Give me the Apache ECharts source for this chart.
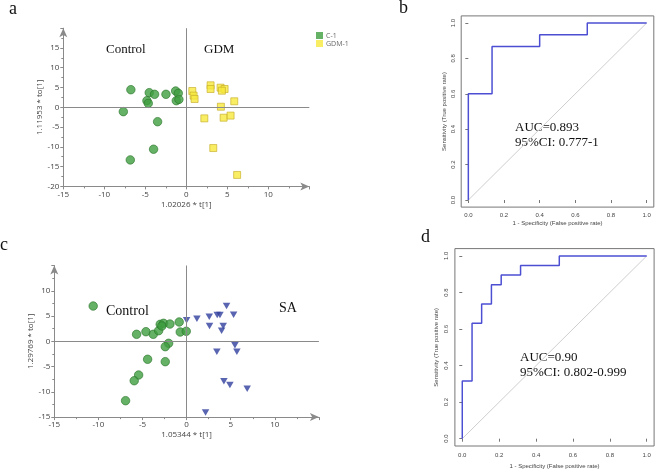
<!DOCTYPE html>
<html><head><meta charset="utf-8">
<script src="https://cdn.jsdelivr.net/npm/echarts@6/dist/echarts.min.js"></script>
<style>html,body{margin:0;padding:0;background:#fff}#c{width:655px;height:470px}</style>
</head><body><div id="c"></div>
<script>
// Panel a: OPLS-DA scores, Control (C-1) vs GDM (GDM-1)
const ctrlA = [[-6.76,4.45],[-4.52,3.7],[-3.87,3.28],[-2.48,3.28],[-1.3,4.12],[-0.98,3.54],[-4.8,1.67],[-4.64,1.0],[-1.22,1.67],[-0.9,2.0],[-7.68,-1.1],[-3.5,-3.64],[-3.99,-10.6],[-6.83,-13.3]];
const gdmA = [[0.73,4.12],[0.89,2.95],[1.01,2.1],[2.96,5.56],[2.96,4.63],[4.18,4.96],[4.67,4.63],[4.34,4.2],[5.85,1.52],[4.22,0.15],[2.2,-2.8],[4.55,-2.63],[5.4,-2.1],[3.29,-10.3],[6.2,-17.1]];
// Panel c: Control vs SA
const ctrlC = [[-10.59,6.98],[-5.67,1.38],[-4.61,1.9],[-3.78,1.38],[-3.17,2.1],[-2.99,3.36],[-2.61,3.56],[-2.8,3.03],[-1.89,3.42],[-0.84,3.82],[-0.72,1.84],[-0.04,1.98],[-2.04,-0.4],[-2.42,-1.06],[-4.42,-3.56],[-2.42,-4.03],[-5.44,-6.67],[-5.94,-7.8],[-6.92,-11.75]];
const saC = [[0,4.15],[1.17,4.48],[2.57,4.87],[3.47,5.2],[3.78,5.2],[4.53,6.98],[5.33,5.27],[2.6,3.03],[4.15,3.03],[3.97,2.1],[5.48,-0.8],[5.7,-2.05],[3.43,-2.05],[4.23,-7.9],[4.91,-8.65],[6.87,-9.37],[2.15,-14.1]];
// ROC curves (FPR, TPR)
const rocB = [[0,0],[0,0.6],[0.133,0.6],[0.133,0.867],[0.4,0.867],[0.4,0.933],[0.667,0.933],[0.667,1],[1,1]];
const rocD = [[0,0],[0,0.316],[0.053,0.316],[0.053,0.632],[0.105,0.632],[0.105,0.737],[0.158,0.737],[0.158,0.842],[0.211,0.842],[0.211,0.895],[0.316,0.895],[0.316,0.947],[0.526,0.947],[0.526,1],[1,1]];
const diag = [[0,0],[1,1]];
const rocTicks = [0,0.2,0.4,0.6,0.8,1.0];
const titleA = {x:'1.02026 * t[1]', y:'1.11953 * to[1]'};
const titleC = {x:'1.05344 * t[1]', y:'1.29769 * to[1]'};
const rocX = '1 - Specificity (False positive rate)';
const rocY = 'Sensitivity (True positive rate)';

const axisCol = '#8a8a8a';
const lblFont = 'Open Sans, DejaVu Sans, sans-serif';
function scatX(i, name, max){
  return {gridIndex:i, type:'value', min:-15, max:max, interval:5,
    axisLine:{show:true, onZero:false, symbol:['none','arrow'], symbolSize:[6,9], lineStyle:{color:axisCol,width:1}},
    axisTick:{show:true, length:3, lineStyle:{color:axisCol}},
    minorTick:{show:true, splitNumber:2, length:2, lineStyle:{color:axisCol}},
    splitLine:{show:false},
    axisLabel:{fontSize:8, color:'#444', margin:4, fontFamily:lblFont, formatter:v=> v>=max-0.01 ? '' : String(v)},
    name:name, nameLocation:'middle', nameGap:14, nameTextStyle:{fontSize:8, color:'#444', fontFamily:lblFont}};
}
function scatY(i, name, min, max){
  return {gridIndex:i, type:'value', min:min, max:max, interval:5,
    axisLine:{show:true, onZero:false, symbol:['none','arrow'], symbolSize:[6,9], lineStyle:{color:axisCol,width:1}},
    axisTick:{show:true, length:3, lineStyle:{color:axisCol}},
    minorTick:{show:true, splitNumber:2, length:2, lineStyle:{color:axisCol}},
    splitLine:{show:false},
    axisLabel:{fontSize:8, color:'#444', margin:4, fontFamily:lblFont, formatter:v=> v>=max-0.01 ? '' : String(v)},
    name:name, nameLocation:'middle', nameGap:20, nameTextStyle:{fontSize:8, color:'#444', fontFamily:lblFont}};
}
function rocAx(i, isY, name, gap, margin){
  return {gridIndex:i, type:'value', min:-0.04, max:1.04,
    axisLine:{show:false},
    axisTick:{show:true, length:3, customValues:rocTicks, lineStyle:{color:'#777'}},
    splitLine:{show:false},
    axisLabel:{fontSize:6, color:'#444', margin:margin, fontFamily:'Liberation Sans, Arial, sans-serif', customValues:rocTicks, rotate: isY?90:0, formatter:v=>v.toFixed(1)},
    name:name, nameLocation:'middle', nameGap:gap, nameTextStyle:{fontSize:6, color:'#444', fontFamily:'Liberation Sans, Arial, sans-serif'}};
}
const refLine = {silent:true, symbol:'none', label:{show:false}, lineStyle:{color:axisCol, type:'solid', width:1}, data:[{xAxis:0},{yAxis:0}]};
const green = {color:'#3f9e40', borderColor:'#2a752a', borderWidth:0.8};
const serif = 'Liberation Serif, Times New Roman, serif';
function txt(t, x, y, size, align){
  return {type:'text', x:x, y:y, style:{text:t, font:size+'px '+serif, fill:'#111', align:align||'left', verticalAlign:'middle'}};
}

const option = {
  animation:false,
  backgroundColor:'#fff',
  grid:[
    {left:63.3, top:28.2, width:246, height:158.2},
    {left:461.2, top:15.9, width:192.6, height:191.2, show:true, borderColor:'#777', borderWidth:1, backgroundColor:'transparent'},
    {left:54.3, top:265.5, width:264.6, height:151.6},
    {left:454.9, top:248.6, width:199.2, height:198.8, show:true, borderColor:'#777', borderWidth:1, backgroundColor:'transparent'}
  ],
  xAxis:[ scatX(0, titleA.x, 15), rocAx(1,false,rocX,13,5), scatX(2, titleC.x, 15), rocAx(3,false,rocX,17,6) ],
  yAxis:[ scatY(0, titleA.y, -20, 20), rocAx(1,true,rocY,14,5), scatY(2, titleC.y, -15, 15), rocAx(3,true,rocY,16,6) ],
  legend:{orient:'vertical', left:316, top:32, itemWidth:7, itemHeight:7, itemGap:1, padding:0,
    textStyle:{fontSize:7, color:'#666', fontFamily:lblFont, padding:[0,0,0,-2]},
    data:[{name:'C-1', icon:'rect', itemStyle:{borderWidth:0}},{name:'GDM-1', icon:'rect', itemStyle:{borderWidth:0}}]},
  series:[
    {name:'C-1', type:'scatter', xAxisIndex:0, yAxisIndex:0, symbol:'circle', symbolSize:8.5, itemStyle:green, data:ctrlA, markLine:refLine, z:3},
    {name:'GDM-1', type:'scatter', xAxisIndex:0, yAxisIndex:0, symbol:'rect', symbolSize:7, itemStyle:{color:'#f6e93c', borderColor:'#c4ab25', borderWidth:0.8}, data:gdmA, z:3},
    {name:'diagB', type:'line', xAxisIndex:1, yAxisIndex:1, showSymbol:false, data:diag, lineStyle:{color:'#cfcfcf', width:1}},
    {name:'rocB', type:'line', xAxisIndex:1, yAxisIndex:1, showSymbol:false, data:rocB, lineStyle:{color:'#4d4fd3', width:1.5}},
    {name:'Control', type:'scatter', xAxisIndex:2, yAxisIndex:2, symbol:'circle', symbolSize:8.5, itemStyle:green, data:ctrlC, markLine:refLine, z:3},
    {name:'SA', type:'scatter', xAxisIndex:2, yAxisIndex:2, symbol:'triangle', symbolRotate:180, symbolSize:[7.5,6.5], itemStyle:{color:'#2f3e9c'}, data:saC, z:3},
    {name:'diagD', type:'line', xAxisIndex:3, yAxisIndex:3, showSymbol:false, data:diag, lineStyle:{color:'#cfcfcf', width:1}},
    {name:'rocD', type:'line', xAxisIndex:3, yAxisIndex:3, showSymbol:false, data:rocD, lineStyle:{color:'#4d4fd3', width:1.5}}
  ],
  graphic:[
    txt('a', 9, 9, 18), txt('b', 399, 8, 18), txt('c', 0, 245, 18), txt('d', 421, 237, 18),
    txt('Control', 106, 49.5, 13), txt('GDM', 204, 49.5, 13),
    txt('Control', 106, 311, 14), txt('SA', 279, 308, 14),
    txt('AUC=0.893', 515, 128, 13), txt('95%CI: 0.777-1', 515, 143, 13),
    txt('AUC=0.90', 520, 358, 13), txt('95%CI: 0.802-0.999', 520, 373, 13)
  ]
};
const chart = echarts.init(document.getElementById('c'), null, {renderer:'canvas'});
chart.setOption(option);
</script></body></html>
